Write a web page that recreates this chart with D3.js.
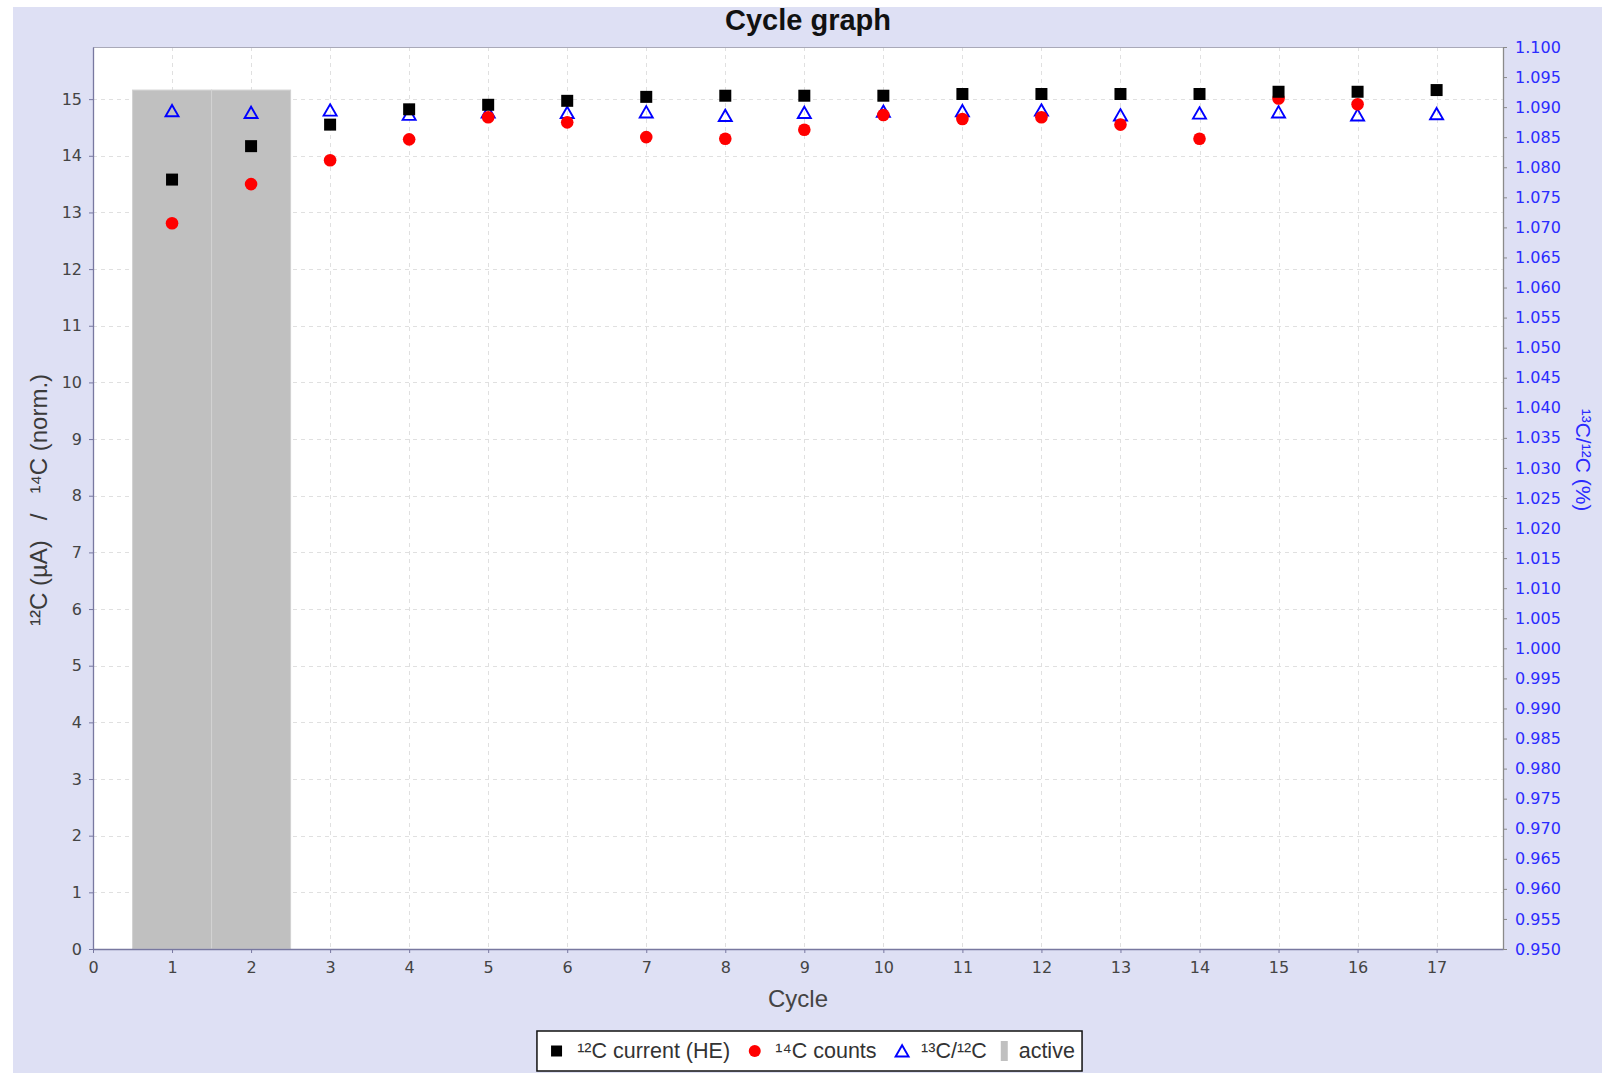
<!DOCTYPE html>
<html><head><meta charset="utf-8">
<script src="https://cdn.jsdelivr.net/npm/d3@7"></script>
<style>html,body{margin:0;padding:0;background:#fff;} svg{display:block} text{white-space:pre}</style>
</head><body>
<svg id="chart" width="1617" height="1074"></svg>
<script>
// ---- data ----
const cycles    = [1, 2, 3, 4, 5, 6, 7, 8, 9, 10, 11, 12, 13, 14, 15, 16, 17];
const current12 = [13.58, 14.17, 14.55, 14.82, 14.90, 14.97, 15.04, 15.06, 15.06, 15.06, 15.09, 15.09, 15.09, 15.09, 15.13, 15.13, 15.16];
const counts14  = [12.81, 13.50, 13.92, 14.29, 14.68, 14.59, 14.33, 14.30, 14.46, 14.72, 14.65, 14.68, 14.55, 14.30, 15.01, 14.91, null];
const ratio13   = [1.0894, 1.0891, 1.0895, 1.0888, 1.0892, 1.0891, 1.0892, 1.0886, 1.0891, 1.0893, 1.0894, 1.0895, 1.0887, 1.0890, 1.0892, 1.0887, 1.0889];
const activeCycles = [1, 2];
const xTicks = [0, 1, 2, 3, 4, 5, 6, 7, 8, 9, 10, 11, 12, 13, 14, 15, 16, 17];
const leftTicks = [0, 1, 2, 3, 4, 5, 6, 7, 8, 9, 10, 11, 12, 13, 14, 15];
const rightTicks = d3.range(0, 31).map(i => +(0.95 + i * 0.005).toFixed(3));
const titleText = "Cycle graph";
const xLabel = "Cycle";
const yLabelLeft = "¹²C (µA)   /   ¹⁴C (norm.)";
const yLabelRight = "¹³C/¹²C (%)";
const legendLabels = ["¹²C current (HE)", "¹⁴C counts", "¹³C/¹²C", "active"];

// ---- layout ----
const L = 93, R = 1503, T = 47, B = 949;
const svg = d3.select("#chart");
const x  = d3.scaleLinear().domain([0, 17.84]).range([L, R]);
const yL = d3.scaleLinear().domain([0, 15.92]).range([B, T]);
const yR = d3.scaleLinear().domain([0.95, 1.10]).range([B, T]);

const tickFont = "'DejaVu Sans', sans-serif";
const labFont = "'Liberation Sans', Arial, sans-serif";

svg.append("rect").attr("x", 13).attr("y", 7).attr("width", 1589).attr("height", 1066).attr("fill", "#dee0f4");
svg.append("rect").attr("x", L).attr("y", T).attr("width", R - L).attr("height", B - T).attr("fill", "#fff");

// gridlines
const grid = svg.append("g").attr("stroke", "#e0e0e0").attr("stroke-width", 1).attr("stroke-dasharray", "4,4");
grid.selectAll("line.v").data(xTicks.filter(d => d > 0)).join("line")
  .attr("x1", d => Math.round(x(d)) + 0.5).attr("x2", d => Math.round(x(d)) + 0.5).attr("y1", T).attr("y2", B);
grid.selectAll("line.h").data(leftTicks.filter(d => d > 0)).join("line")
  .attr("y1", d => Math.round(yL(d)) + 0.5).attr("y2", d => Math.round(yL(d)) + 0.5).attr("x1", L).attr("x2", R);

// active bars
const activeTop = d3.max(current12);
svg.append("g").selectAll("rect").data(activeCycles).join("rect")
  .attr("x", d => x(d - 0.5)).attr("width", d => x(d + 0.5) - x(d - 0.5))
  .attr("y", yL(activeTop)).attr("height", yL(0) - yL(activeTop))
  .attr("fill", "#c0c0c0").attr("stroke", "#d2d2d2").attr("stroke-width", 1);

// markers: triangles, circles, squares (squares on top)
const triPath = "M0,-5.8L6.5,5.5L-6.5,5.5Z";
svg.append("g").selectAll("path").data(cycles.map((c, i) => [c, ratio13[i]])).join("path")
  .attr("d", triPath).attr("transform", d => `translate(${x(d[0])},${yR(d[1])})`)
  .attr("fill", "none").attr("stroke", "#0000ff").attr("stroke-width", 1.9);
svg.append("g").selectAll("circle").data(cycles.map((c, i) => [c, counts14[i]]).filter(d => d[1] != null)).join("circle")
  .attr("cx", d => x(d[0])).attr("cy", d => yL(d[1])).attr("r", 6.3).attr("fill", "#ff0000");
svg.append("g").selectAll("path").data(cycles.map((c, i) => [c, current12[i]])).join("path")
  .attr("d", d3.symbol(d3.symbolSquare, 144)()).attr("transform", d => `translate(${x(d[0])},${yL(d[1])})`)
  .attr("fill", "#000");

// top border
svg.append("line").attr("x1", L).attr("x2", R).attr("y1", T + 0.5).attr("y2", T + 0.5).attr("stroke", "#a9a9b8");

// axes
function styleAxis(g, lineColor, textColor) {
  g.select(".domain").attr("stroke", lineColor).attr("stroke-width", 1.3);
  g.selectAll(".tick line").attr("stroke", lineColor);
  g.selectAll(".tick text").attr("fill", textColor).style("font-family", tickFont).style("font-size", "16px");
}
const gx = svg.append("g").attr("transform", `translate(0,${B})`)
  .call(d3.axisBottom(x).tickValues(xTicks).tickFormat(d3.format("d")).tickSize(4).tickSizeOuter(0).tickPadding(9));
styleAxis(gx, "#7878a0", "#444");
const gl = svg.append("g").attr("transform", `translate(${L},0)`)
  .call(d3.axisLeft(yL).tickValues(leftTicks).tickFormat(d3.format("d")).tickSize(4).tickSizeOuter(0).tickPadding(7));
styleAxis(gl, "#7878a0", "#444");
const gr = svg.append("g").attr("transform", `translate(${R},0)`)
  .call(d3.axisRight(yR).tickValues(rightTicks).tickFormat(d3.format(".3f")).tickSize(4).tickSizeOuter(0).tickPadding(8));
styleAxis(gr, "#8a8a8a", "#2b2bff");

// title and labels
svg.append("text").attr("x", 808).attr("y", 30).attr("text-anchor", "middle")
  .style("font-family", labFont).style("font-weight", "bold").style("font-size", "29px").attr("fill", "#111").text(titleText);
svg.append("text").attr("x", (L + R) / 2).attr("y", 1007).attr("text-anchor", "middle")
  .style("font-family", labFont).style("font-size", "24px").attr("fill", "#444").text(xLabel);
svg.append("text").attr("transform", "translate(38,500) rotate(-90)").attr("text-anchor", "middle").attr("dominant-baseline", "central")
  .style("font-family", labFont).style("font-size", "24px").attr("fill", "#3a3a3a").text(yLabelLeft);
svg.append("text").attr("transform", "translate(1583,460) rotate(90)").attr("text-anchor", "middle").attr("dominant-baseline", "central")
  .style("font-family", labFont).style("font-size", "21px").attr("fill", "#2b2bff").text(yLabelRight);

// legend
const lg = svg.append("g");
const box = lg.append("rect").attr("fill", "#fff").attr("stroke", "#111").attr("stroke-width", 1.5);
const ly = 1051;
const items = lg.append("g");
const markerDraw = [
  g => g.append("path").attr("d", d3.symbol(d3.symbolSquare, 121)()).attr("fill", "#000"),
  g => g.append("circle").attr("r", 6).attr("fill", "#ff0000"),
  g => g.append("path").attr("d", triPath).attr("fill", "none").attr("stroke", "#0000ff").attr("stroke-width", 1.9),
  g => g.append("rect").attr("x", -3.5).attr("y", -10).attr("width", 7).attr("height", 20).attr("fill", "#c0c0c0")
];
const gapBefore = [0, 24.7, 25.5, 17.5];   // text end -> marker centre
const gapText   = [20.6, 20.6, 19, 14.4];  // marker centre -> text start
let cx = 0, lastEnd = 0;
legendLabels.forEach((lab, i) => {
  cx = lastEnd + gapBefore[i];
  const m = items.append("g").attr("transform", `translate(${cx},${ly})`);
  markerDraw[i](m);
  const t = items.append("text").attr("x", cx + gapText[i]).attr("y", ly).attr("dominant-baseline", "central")
    .style("font-family", labFont).style("font-size", "21.5px").attr("fill", "#333").text(lab);
  lastEnd = cx + gapText[i] + t.node().getComputedTextLength();
});
const padL = 19.6, padR = 7.2;
const boxW = lastEnd + padL + padR;
const boxX = 809.5 - boxW / 2;
items.attr("transform", `translate(${boxX + padL},0)`);
box.attr("x", boxX).attr("y", 1031).attr("width", boxW).attr("height", 40);
</script>
</body></html>
